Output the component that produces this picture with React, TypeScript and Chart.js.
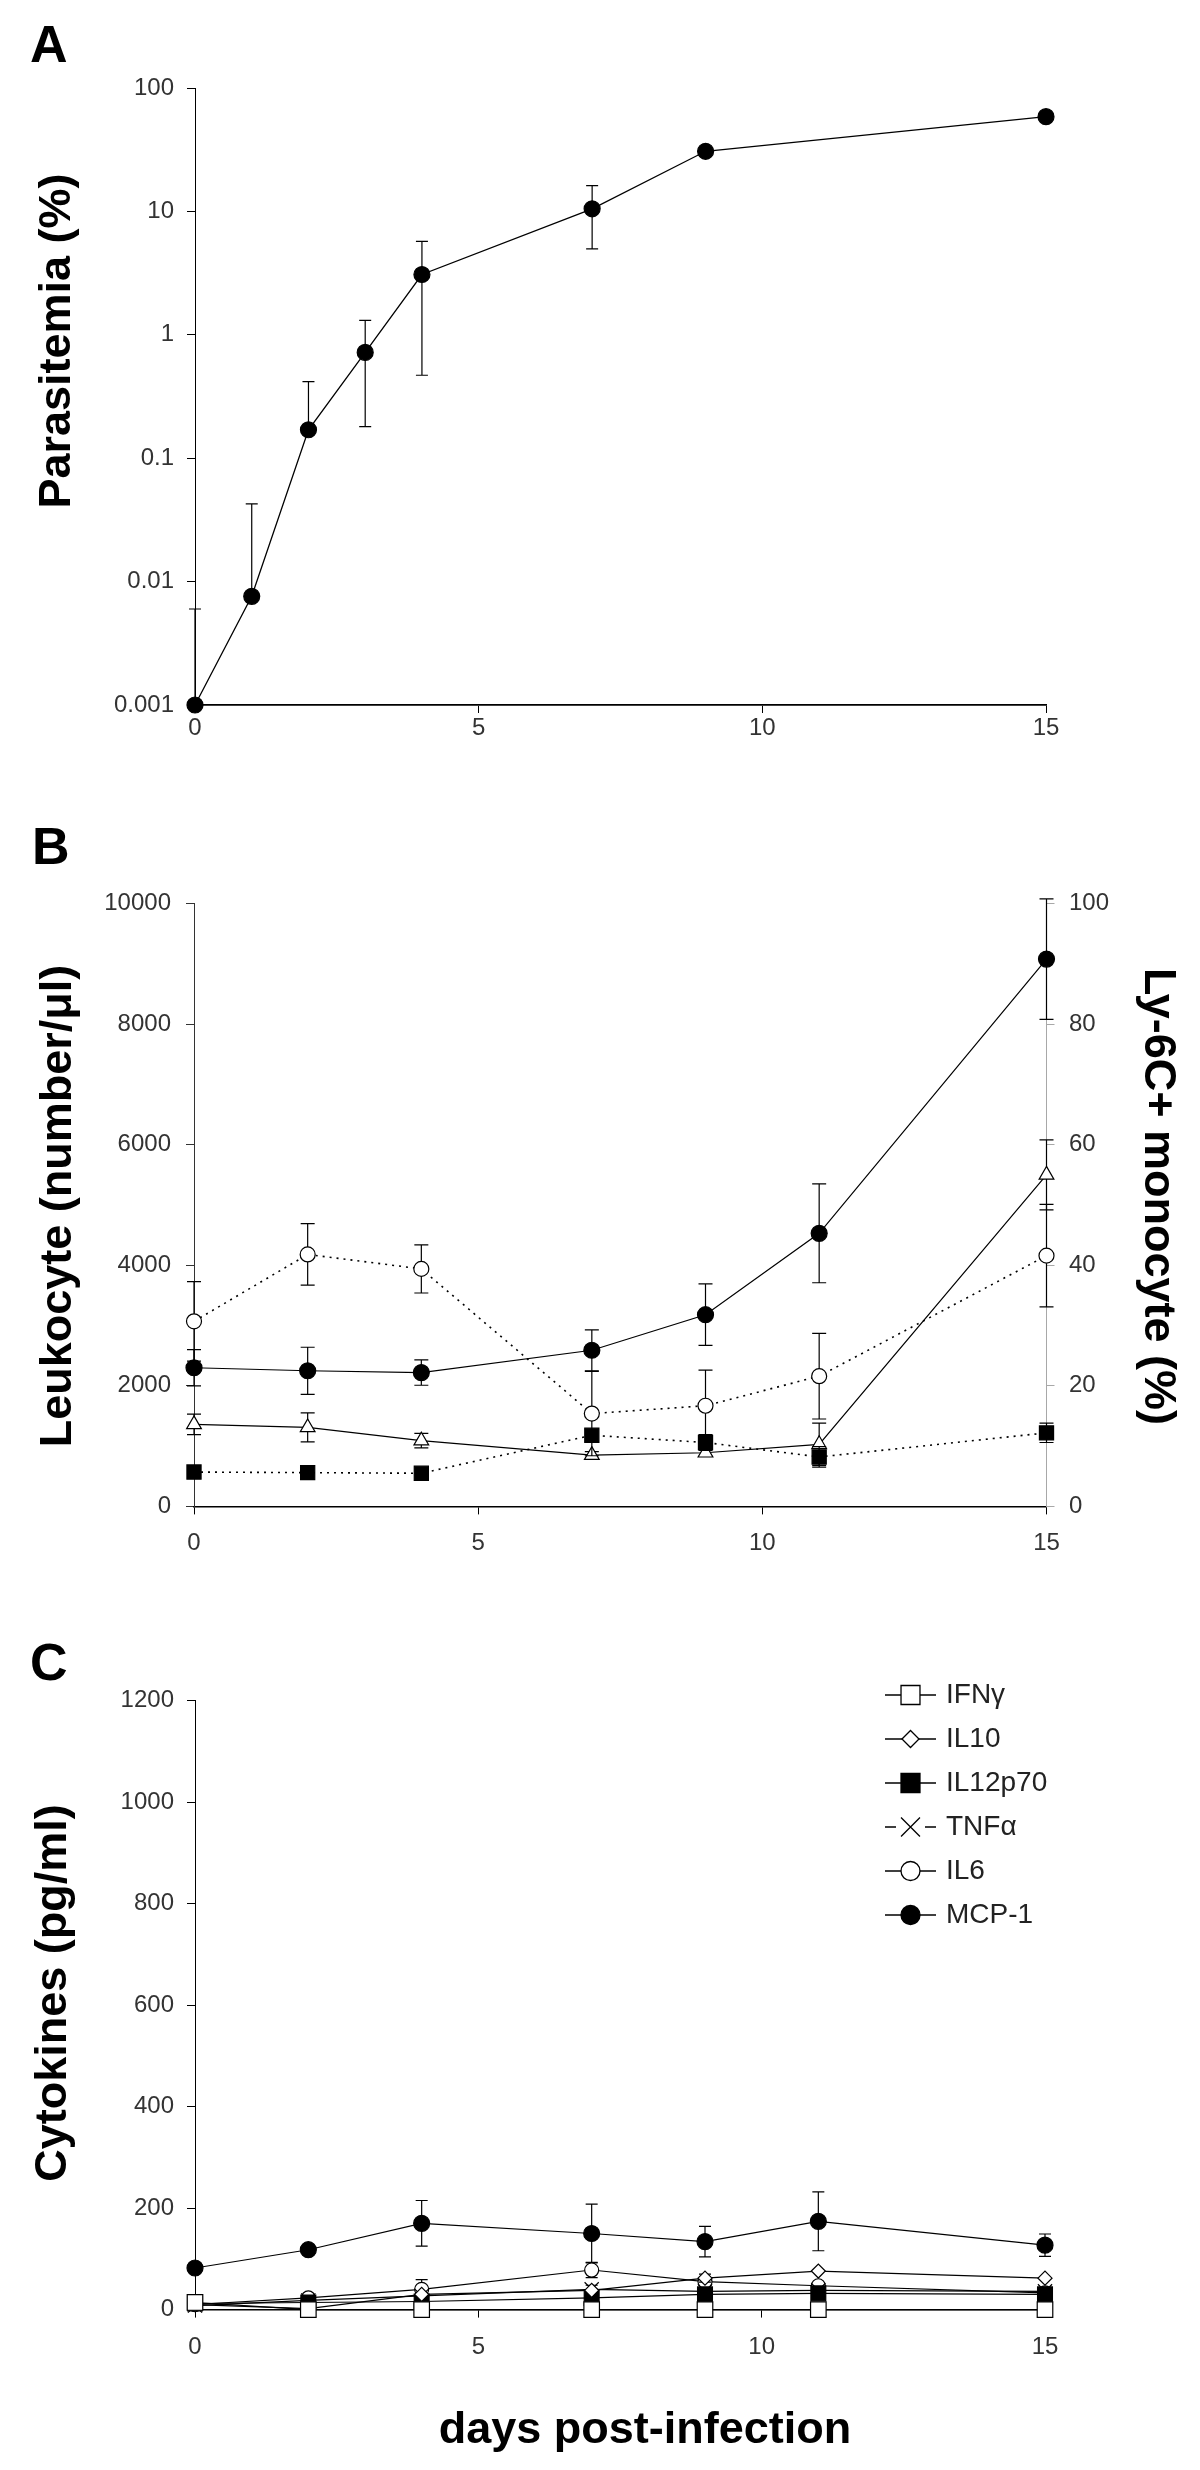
import React, { useEffect, useRef } from "react";
import { Chart, registerables } from "chart.js";

Chart.register(...registerables);

const FONT = "'Liberation Sans', Arial, Helvetica, sans-serif";

// ---------------- Panel A : parasitemia ----------------
const daysA = [0, 1, 2, 3, 4, 7, 9, 15];
const parasitemia = [0.001, 0.0076, 0.17, 0.72, 3.08, 10.5, 30.7, 58.6];
const parasitemiaErrUp = [0.005, 0.035, 0.247, 0.59, 2.64, 5.7, 0, 0];
const parasitemiaErrDown = [0.005, 0.035, 0.247, 0.54, 2.61, 5.53, 0, 0];
const parasitemiaTicks = [0.001, 0.01, 0.1, 1, 10, 100];
const dayTicks = [0, 5, 10, 15];

// ---------------- Panel B : leukocytes / Ly-6C+ monocytes ----------------
const daysB = [0, 2, 4, 7, 9, 11, 15];
const leukocyteCount = [3070, 4180, 3940, 1540, 1670, 2160, 4160];
const leukocyteCountSD = [660, 510, 400, 700, 590, 710, 850];
const monocyteCount = [570, 560, 550, 1180, 1060, 820, 1220];
const monocyteCountSD = [0, 0, 0, 100, 130, 170, 160];
const ly6cMonocytePct = [23.0, 22.5, 22.2, 25.9, 31.8, 45.3, 90.8];
const ly6cMonocytePctSD = [3.0, 3.9, 2.1, 3.4, 5.1, 8.2, 10.0];
const ly6cLeukocytePct = [13.6, 13.1, 10.9, 8.5, 8.9, 10.3, 55.0];
const ly6cLeukocytePctSD = [1.7, 2.4, 1.2, 0.6, 0.6, 3.5, 5.8];
const leukocyteTicks = [0, 2000, 4000, 6000, 8000, 10000];
const percentTicks = [0, 20, 40, 60, 80, 100];

// ---------------- Panel C : cytokines ----------------
const daysC = [0, 2, 4, 7, 9, 11, 15];
const cytokineNames = ["IFN\u03b3", "IL10", "IL12p70", "TNF\u03b1", "IL6", "MCP-1"];
const ifng = [14, 0, 0, 0, 0, 0, 0];
const il10 = [10, 2, 30, 38, 62, 76, 62];
const il12p70 = [12, 14, 16, 23, 30, 32, 30];
const tnfa = [8, 18, 27, 40, 36, 38, 36];
const il6 = [10, 23, 40, 78, 55, 47, 33];
const mcp1 = [82, 118, 170, 150, 134, 174, 127];
const il6SD = [0, 0, 19, 15, 0, 0, 0];
const tnfaSD = [0, 0, 0, 8, 0, 0, 0];
const il10SD = [0, 0, 0, 0, 8, 0, 0];
const mcp1SD = [0, 6, 45, 58, 30, 58, 22];
const cytokineTicks = [0, 200, 400, 600, 800, 1000, 1200];

const pts = (xs: number[], ys: number[]) => xs.map((x, i) => ({ x, y: ys[i] }));

// ---------------- helpers ----------------
function xAxis(labelPad: number, borderWidth: number) {
  return {
    type: "linear",
    position: "bottom",
    min: 0,
    max: 15,
    afterBuildTicks: (s: any) => {
      s.ticks = dayTicks.map((v) => ({ value: v }));
    },
    afterFit: (s: any) => {
      s.height = 60;
    },
    grid: { display: true, drawOnChartArea: false, drawTicks: true, tickLength: 8, color: "#000", lineWidth: 1 },
    border: { display: true, color: "#000", width: borderWidth },
    ticks: {
      font: { family: FONT, size: 24 },
      color: "#333",
      padding: labelPad,
      maxRotation: 0,
      autoSkip: false,
      callback: (v: any) => String(v),
    },
  };
}

function yAxis(o: {
  type?: string;
  position: string;
  min: number;
  max: number;
  ticks: number[];
  width: number;
  pad: number;
  color: string;
}) {
  return {
    type: o.type || "linear",
    position: o.position,
    min: o.min,
    max: o.max,
    afterBuildTicks: (s: any) => {
      s.ticks = o.ticks.map((v) => ({ value: v }));
    },
    afterFit: (s: any) => {
      s.width = o.width;
    },
    grid: { display: true, drawOnChartArea: false, drawTicks: true, tickLength: 8, color: o.color, lineWidth: 1 },
    border: { display: true, color: o.color, width: 1 },
    ticks: {
      font: { family: FONT, size: 24 },
      color: "#333",
      padding: o.pad,
      autoSkip: false,
      callback: (v: any) => String(v),
    },
  };
}

const errorBarPlugin = (capHalf: number) => ({
  id: "errorBars",
  beforeDatasetDraw(chart: any, args: any) {
    const ds: any = chart.data.datasets[args.index];
    const up: number[] | undefined = ds.errorBars;
    if (!up) return;
    const down: number[] = ds.errorBarsDown || up;
    const meta = args.meta;
    const xs = chart.scales[meta.xAxisID];
    const ys = chart.scales[meta.yAxisID];
    const ctx = chart.ctx;
    ctx.save();
    ctx.strokeStyle = "#000";
    ctx.lineWidth = 1.2;
    ds.data.forEach((p: any, i: number) => {
      const e = up[i];
      if (!e) return;
      const x = xs.getPixelForValue(p.x);
      const y0 = ys.getPixelForValue(p.y);
      const yTop = ys.getPixelForValue(p.y + e);
      const low = p.y - (down[i] || 0);
      const canLow = ys.type !== "logarithmic" || low > 0;
      const yBot = canLow ? ys.getPixelForValue(low) : y0;
      ctx.beginPath();
      ctx.moveTo(x, yTop);
      ctx.lineTo(x, yBot);
      ctx.moveTo(x - capHalf, yTop);
      ctx.lineTo(x + capHalf, yTop);
      if (canLow) {
        ctx.moveTo(x - capHalf, yBot);
        ctx.lineTo(x + capHalf, yBot);
      }
      ctx.stroke();
    });
    ctx.restore();
  },
});

type TextItem = {
  text: string;
  x: number;
  y: number;
  font: string;
  rotation?: number;
  align?: CanvasTextAlign;
  baseline?: CanvasTextBaseline;
};

const textPlugin = (items: TextItem[]) => ({
  id: "panelText",
  afterDraw(chart: any) {
    const ctx = chart.ctx;
    items.forEach((it) => {
      ctx.save();
      ctx.translate(it.x, it.y);
      if (it.rotation) ctx.rotate((it.rotation * Math.PI) / 180);
      ctx.font = it.font;
      ctx.fillStyle = "#000";
      ctx.textAlign = it.align || "center";
      ctx.textBaseline = it.baseline || "middle";
      ctx.fillText(it.text, 0, 0);
      ctx.restore();
    });
  },
});

function drawMarker(ctx: CanvasRenderingContext2D, style: string, x: number, y: number, r: number, fill: string) {
  ctx.save();
  ctx.beginPath();
  ctx.lineWidth = 1.3;
  ctx.strokeStyle = "#000";
  ctx.fillStyle = fill;
  if (style === "circle") {
    ctx.arc(x, y, r, 0, Math.PI * 2);
    ctx.fill();
    ctx.stroke();
  } else if (style === "rect") {
    const s = r * Math.SQRT1_2;
    ctx.rect(x - s, y - s, 2 * s, 2 * s);
    ctx.fill();
    ctx.stroke();
  } else if (style === "rectRot") {
    ctx.moveTo(x - r, y);
    ctx.lineTo(x, y - r);
    ctx.lineTo(x + r, y);
    ctx.lineTo(x, y + r);
    ctx.closePath();
    ctx.fill();
    ctx.stroke();
  } else if (style === "crossRot") {
    const s = r * Math.SQRT1_2;
    ctx.moveTo(x - s, y - s);
    ctx.lineTo(x + s, y + s);
    ctx.moveTo(x + s, y - s);
    ctx.lineTo(x - s, y + s);
    ctx.stroke();
  }
  ctx.restore();
}

const lineLegendPlugin = (cfg: {
  x0: number;
  x1: number;
  textX: number;
  y0: number;
  gap: number;
  font: string;
  radius: Record<string, number>;
}) => ({
  id: "lineLegend",
  afterDraw(chart: any) {
    const ctx = chart.ctx;
    chart.data.datasets.forEach((ds: any, i: number) => {
      const y = cfg.y0 + i * cfg.gap;
      const xm = (cfg.x0 + cfg.x1) / 2;
      const style = ds.pointStyle;
      const r = cfg.radius[style];
      ctx.save();
      ctx.strokeStyle = "#000";
      ctx.lineWidth = 1.3;
      ctx.beginPath();
      if (style === "crossRot") {
        const g = r * Math.SQRT1_2 + 5;
        ctx.moveTo(cfg.x0, y);
        ctx.lineTo(xm - g, y);
        ctx.moveTo(xm + g, y);
        ctx.lineTo(cfg.x1, y);
      } else {
        ctx.moveTo(cfg.x0, y);
        ctx.lineTo(cfg.x1, y);
      }
      ctx.stroke();
      drawMarker(ctx, style, xm, y, r, ds.pointBackgroundColor);
      ctx.font = cfg.font;
      ctx.fillStyle = "#222";
      ctx.textAlign = "left";
      ctx.textBaseline = "middle";
      ctx.fillText(ds.label, cfg.textX, y);
      ctx.restore();
    });
  },
});

const TITLE_FONT = `bold 45px ${FONT}`;
const LETTER_FONT = `bold 52px ${FONT}`;

function lineDs(label: string, data: any[], style: string, r: number, fill: string, opts: any = {}) {
  return {
    label,
    data,
    borderColor: "#000",
    borderWidth: 1.2,
    pointStyle: style,
    pointRadius: r,
    pointBackgroundColor: fill,
    pointBorderColor: "#000",
    pointBorderWidth: 1.2,
    fill: false,
    tension: 0,
    clip: false,
    ...opts,
  };
}

// ---------------- chart configs ----------------
function configA(): any {
  return {
    type: "line",
    data: {
      datasets: [
        lineDs("Parasitemia", pts(daysA, parasitemia), "circle", 8, "#000", {
          errorBars: parasitemiaErrUp,
          errorBarsDown: parasitemiaErrDown,
          borderWidth: 1.3,
        }),
      ],
    },
    options: {
      responsive: false,
      animation: false,
      devicePixelRatio: 1,
      events: [],
      layout: { padding: { left: 0, right: 154, top: 88, bottom: 15 } },
      plugins: { legend: { display: false }, tooltip: { enabled: false } },
      scales: {
        x: xAxis(1, 1.8),
        y: yAxis({
          type: "logarithmic",
          position: "left",
          min: 0.001,
          max: 100,
          ticks: parasitemiaTicks,
          width: 195,
          pad: 13,
          color: "#000",
        }),
      },
    },
    plugins: [
      errorBarPlugin(6),
      textPlugin([
        { text: "A", x: 30, y: 62, font: LETTER_FONT, align: "left", baseline: "alphabetic" },
        { text: "Parasitemia (%)", x: 58, y: 341, font: TITLE_FONT, rotation: -90 },
      ]),
    ],
  };
}

function configB(): any {
  const dotted = { borderDash: [2, 5], borderWidth: 1.6 };
  return {
    type: "line",
    data: {
      datasets: [
        lineDs("Leukocytes", pts(daysB, leukocyteCount), "circle", 7.5, "#fff", {
          ...dotted,
          yAxisID: "y",
          errorBars: leukocyteCountSD,
        }),
        lineDs("Monocytes", pts(daysB, monocyteCount), "rect", 10, "#000", {
          ...dotted,
          yAxisID: "y",
          errorBars: monocyteCountSD,
        }),
        lineDs("Ly-6C+ of leukocytes (%)", pts(daysB, ly6cLeukocytePct), "triangle", 8.5, "#fff", {
          yAxisID: "y1",
          errorBars: ly6cLeukocytePctSD,
        }),
        lineDs("Ly-6C+ monocytes (%)", pts(daysB, ly6cMonocytePct), "circle", 8, "#000", {
          yAxisID: "y1",
          errorBars: ly6cMonocytePctSD,
        }),
      ],
    },
    options: {
      responsive: false,
      animation: false,
      devicePixelRatio: 1,
      events: [],
      layout: { padding: { left: 0, right: 53.5, top: 123.6, bottom: 33.6 } },
      plugins: { legend: { display: false }, tooltip: { enabled: false } },
      scales: {
        x: xAxis(15, 1.4),
        y: yAxis({
          position: "left",
          min: 0,
          max: 10000,
          ticks: leukocyteTicks,
          width: 194,
          pad: 15,
          color: "#333",
        }),
        y1: yAxis({
          position: "right",
          min: 0,
          max: 100,
          ticks: percentTicks,
          width: 100,
          pad: 14.5,
          color: "#a8a8a8",
        }),
      },
    },
    plugins: [
      errorBarPlugin(7),
      textPlugin([
        { text: "B", x: 32, y: 84, font: LETTER_FONT, align: "left", baseline: "alphabetic" },
        { text: "Leukocyte (number/\u03bcl)", x: 58.5, y: 426, font: TITLE_FONT, rotation: -90 },
        { text: "Ly-6C+ monocyte (%)", x: 1157, y: 416.5, font: TITLE_FONT, rotation: 90 },
      ]),
    ],
  };
}

function configC(): any {
  const cyto = [ifng, il10, il12p70, tnfa, il6, mcp1];
  const styles = ["rect", "rectRot", "rect", "crossRot", "circle", "circle"];
  const fills = ["#fff", "#fff", "#000", "#fff", "#fff", "#000"];
  const radii = [11, 7, 10.5, 10, 7, 8];
  const sds: (number[] | undefined)[] = [undefined, il10SD, undefined, tnfaSD, il6SD, mcp1SD];
  return {
    type: "line",
    data: {
      datasets: cyto.map((vals, i) =>
        lineDs(cytokineNames[i], pts(daysC, vals), styles[i], radii[i], fills[i], {
          errorBars: sds[i],
        })
      ),
    },
    options: {
      responsive: false,
      animation: false,
      devicePixelRatio: 1,
      events: [],
      layout: { padding: { left: 0, right: 155, top: 100.7, bottom: 100.4 } },
      plugins: { legend: { display: false }, tooltip: { enabled: false } },
      scales: {
        x: xAxis(15, 1.4),
        y: yAxis({
          position: "left",
          min: 0,
          max: 1200,
          ticks: cytokineTicks,
          width: 195,
          pad: 13,
          color: "#000",
        }),
      },
    },
    plugins: [
      errorBarPlugin(6),
      lineLegendPlugin({
        x0: 885,
        x1: 936,
        textX: 946,
        y0: 95,
        gap: 44,
        font: `28px ${FONT}`,
        radius: { rect: 13.4, rectRot: 8.5, circle: 9.5, crossRot: 13.4 },
      }),
      textPlugin([
        { text: "C", x: 30, y: 80, font: LETTER_FONT, align: "left", baseline: "alphabetic" },
        { text: "Cytokines (pg/ml)", x: 54, y: 393, font: TITLE_FONT, rotation: -90 },
        { text: "days post-infection", x: 645, y: 831, font: TITLE_FONT },
      ]),
    ],
  };
}

function Panel({ top, height, make }: { top: number; height: number; make: () => any }) {
  const ref = useRef<HTMLCanvasElement | null>(null);
  useEffect(() => {
    if (!ref.current) return;
    const chart = new Chart(ref.current, make());
    return () => chart.destroy();
  }, [make]);
  return (
    <canvas
      ref={ref}
      width={1200}
      height={height}
      style={{ position: "absolute", left: 0, top, width: 1200, height, display: "block" }}
    />
  );
}

export default function App() {
  return (
    <div
      style={{
        position: "absolute",
        left: 0,
        top: 0,
        width: 1200,
        height: 2470,
        background: "#fff",
        overflow: "hidden",
      }}
    >
      <Panel top={0} height={780} make={configA} />
      <Panel top={780} height={820} make={configB} />
      <Panel top={1600} height={870} make={configC} />
    </div>
  );
}
